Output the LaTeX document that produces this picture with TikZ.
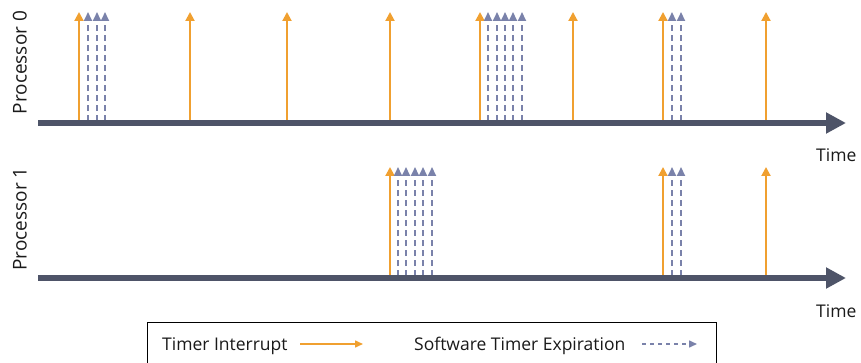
\documentclass[tikz,border=0pt]{standalone}
\usepackage{fontspec}
\setmainfont{Open Sans}
\usetikzlibrary{arrows.meta}
\definecolor{irq}{HTML}{F0A030}
\definecolor{swt}{HTML}{7A82AA}
\definecolor{axiscol}{HTML}{4E5468}
\definecolor{txt}{HTML}{1A1A1A}
\tikzset{
  irqarrow/.style={draw=irq, line width=2pt, -{Triangle[length=9pt,width=9pt]}},
  swtarrow/.style={draw=swt, line width=2pt, dash pattern=on 6pt off 4pt, -{Triangle[length=9pt,width=8pt]}},
  axisline/.style={draw=axiscol, line width=6.5pt, -{Triangle[length=20pt,width=20pt]}},
  lbl/.style={text=txt, font=\fontsize{17.5}{20}\selectfont, inner sep=0pt},
  plbl/.style={lbl, font=\fontsize{19}{22}\selectfont, anchor=south, rotate=90},
}
\begin{document}
\begin{tikzpicture}[x=1pt,y=-1pt]
\useasboundingbox (0,0) rectangle (861,363);
% axes
\coordinate (a0s) at (38,123);
\coordinate (a0e) at (846,123);
\coordinate (a1s) at (38,278);
\coordinate (a1e) at (846,278);
% processor 0 events
\foreach \x in {79,190,287,390,480,573,663,766}
  \draw[irqarrow] (\x,121) -- (\x,12);
\foreach \x in {88,97,105,488,497,505,513,522,672,681}
  \draw[swtarrow] (\x,121) -- (\x,12);
% processor 1 events
\foreach \x in {390,663,766}
  \draw[irqarrow] (\x,276) -- (\x,167);
\foreach \x in {398,406,415,423,432,672,681}
  \draw[swtarrow] (\x,276) -- (\x,167);
\draw[axisline] (a0s) -- (a0e);
\draw[axisline] (a1s) -- (a1e);
\node[plbl] (p0) at (27,62.5) {Processor 0};
\node[plbl] (p1) at (27,219) {Processor 1};
\node[lbl, anchor=base west] (t0) at (816,162) {Time};
\node[lbl, anchor=base west] (t1) at (816,317) {Time};
% legend
\draw[black, line width=1pt] (147,364) -- (147,322) -- (716,322) -- (716,364);
\node[lbl, anchor=base west] (l1) at (162,350) {Timer Interrupt};
\coordinate (l1a) at (300,344);
\coordinate (l1b) at (363,344);
\draw[irqarrow, line width=1.5pt, -{Triangle[length=8pt,width=7pt]}] (l1a) -- (l1b);
\node[lbl, anchor=base west] (l2) at (414,350) {Software Timer Expiration};
\coordinate (l2a) at (642,344);
\coordinate (l2b) at (697,344);
\draw[swtarrow, line width=1.5pt, dash pattern=on 4pt off 4pt, -{Triangle[length=8pt,width=7pt]}] (l2a) -- (l2b);
\end{tikzpicture}
\end{document}
